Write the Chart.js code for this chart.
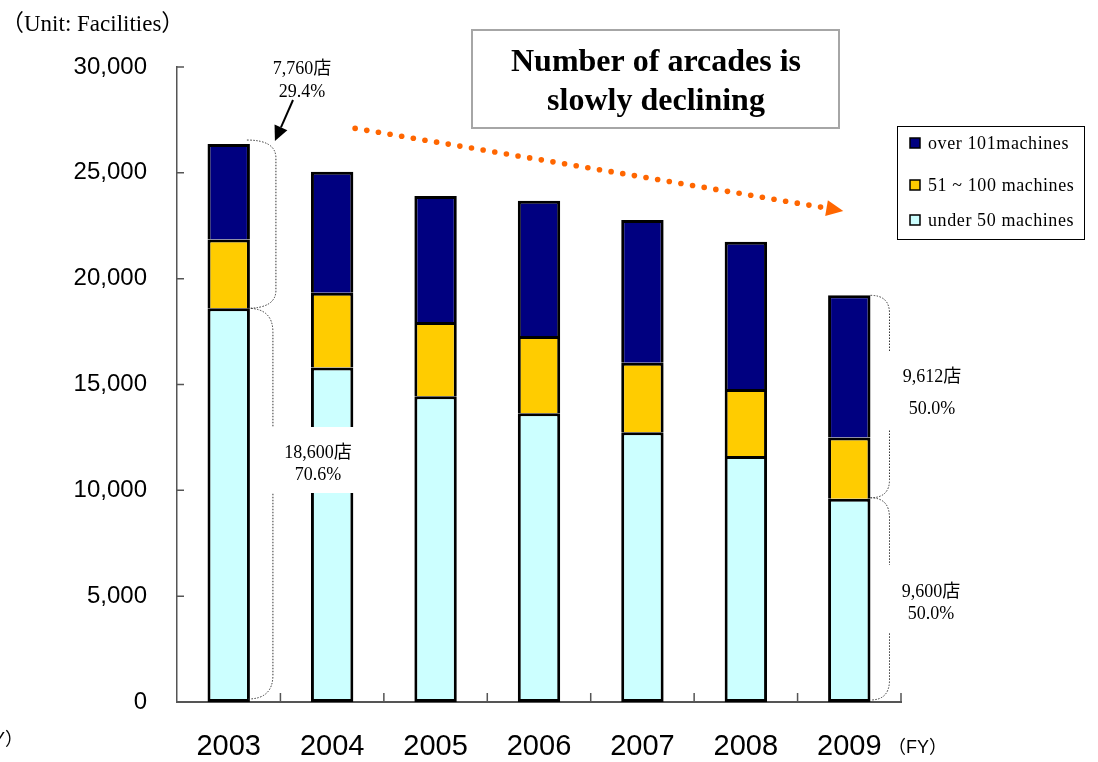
<!DOCTYPE html>
<html>
<head>
<meta charset="utf-8">
<script src="https://cdn.jsdelivr.net/npm/chart.js@4.4.1/dist/chart.umd.min.js"></script>
<style>
  html, body { margin: 0; padding: 0; background: #fff; }
  #wrap { width: 1098px; height: 762px; }
</style>
</head>
<body>
<div id="wrap"><canvas id="arcadeChart" width="1098" height="762"></canvas></div>
<script>
// ===== Data (facilities per fiscal year) =====
const years = ['2003', '2004', '2005', '2006', '2007', '2008', '2009'];
const under50 = [18600, 15800, 14450, 13640, 12740, 11620, 9600];
const mid51to100 = [3250, 3530, 3500, 3650, 3290, 3170, 2900];
const over101 = [4510, 5720, 5950, 6390, 6740, 6960, 6712];
const yTicks = [0, 5000, 10000, 15000, 20000, 25000, 30000];

const seriesNames = ['under 50 machines', '51 ~ 100 machines', 'over 101machines'];
const seriesColors = ['#CCFFFF', '#FFCC00', '#000080'];

const SERIF = "'Liberation Serif', 'Times New Roman', 'Noto Sans CJK JP', serif";
const SANS = "'Liberation Sans', Arial, sans-serif";
const AXIS = '#555';

function fmt(n) { return n.toLocaleString('en-US'); }

// ===== Decorations: axes ticks, braces, notes, legend, title box =====
const decor = {
  id: 'decor',
  afterDraw(chart) {
    const ctx = chart.ctx;
    const xs = chart.scales.x, ys = chart.scales.y;
    const area = chart.chartArea;
    const first = chart.getDatasetMeta(0).data[0];
    const last = chart.getDatasetMeta(0).data[years.length - 1];
    ctx.save();

    // inward tick marks
    ctx.strokeStyle = AXIS;
    ctx.lineWidth = 1.5;
    ctx.beginPath();
    yTicks.forEach(v => {
      const y = ys.getPixelForValue(v);
      ctx.moveTo(area.left, y); ctx.lineTo(area.left + 7, y);
    });
    const step = (area.right - area.left) / years.length;
    for (let i = 1; i <= years.length; i++) {
      const x = area.left + i * step;
      ctx.moveTo(x, area.bottom); ctx.lineTo(x, area.bottom - 9);
    }
    ctx.stroke();

    // dotted braces
    function brace(x0, x1, yTop, yBot, r) {
      ctx.beginPath();
      ctx.moveTo(x0, yTop);
      ctx.quadraticCurveTo(x1, yTop, x1, yTop + r);
      ctx.lineTo(x1, yBot - r);
      ctx.quadraticCurveTo(x1, yBot, x0, yBot);
      ctx.stroke();
    }
    ctx.strokeStyle = '#333';
    ctx.lineWidth = 1;
    ctx.setLineDash([1.5, 1.5]);
    const r0 = first.x + first.width / 2;
    const tot0 = under50[0] + mid51to100[0] + over101[0];
    brace(r0 - 3, r0 + 26, ys.getPixelForValue(tot0) - 4, ys.getPixelForValue(under50[0]), 18);
    brace(r0 - 2, r0 + 23, ys.getPixelForValue(under50[0]), ys.getPixelForValue(0) - 3, 24);
    const r6 = last.x + last.width / 2;
    const tot6 = under50[6] + mid51to100[6] + over101[6];
    brace(r6, r6 + 19, ys.getPixelForValue(tot6), ys.getPixelForValue(under50[6]) - 1, 18);
    brace(r6, r6 + 19, ys.getPixelForValue(under50[6]) - 1, ys.getPixelForValue(0) - 2, 20);
    ctx.setLineDash([]);

    // white label boxes (cover brace gaps and part of the 2004 bar)
    ctx.fillStyle = '#fff';
    ctx.fillRect(262, 427, 110, 66);
    ctx.fillRect(r6 + 10, 352, 20, 78);
    ctx.fillRect(r6 + 10, 565, 20, 67);

    // notes
    ctx.fillStyle = '#000';
    ctx.textAlign = 'center';
    ctx.textBaseline = 'alphabetic';
    ctx.font = '18px ' + SERIF;
    const top2 = mid51to100[0] + over101[0];
    ctx.fillText(fmt(top2) + '店', 302, 74);
    ctx.fillText((top2 / tot0 * 100).toFixed(1) + '%', 302, 97);
    ctx.fillText(fmt(under50[0]) + '店', 318, 458);
    ctx.fillText((under50[0] / tot0 * 100).toFixed(1) + '%', 318, 480);
    const up6 = mid51to100[6] + over101[6];
    ctx.fillText(fmt(up6) + '店', 932, 382);
    ctx.fillText((up6 / tot6 * 100).toFixed(1) + '%', 932, 414);
    ctx.fillText(fmt(under50[6]) + '店', 931, 597);
    ctx.fillText((under50[6] / tot6 * 100).toFixed(1) + '%', 931, 619);

    // arrows (solid black note arrow, dotted orange trend arrow)
    function arrow(x0, y0, x1, y1, len, half, color, dots) {
      const dx = x1 - x0, dy = y1 - y0, d = Math.hypot(dx, dy);
      const ux = dx / d, uy = dy / d;
      const bx = x1 - ux * len, by = y1 - uy * len;
      ctx.fillStyle = color;
      ctx.strokeStyle = color;
      if (dots) {
        for (let t = 0; t <= d - len - 6; t += 11.8) {
          ctx.beginPath();
          ctx.arc(x0 + ux * t, y0 + uy * t, 2.8, 0, Math.PI * 2);
          ctx.fill();
        }
      } else {
        ctx.lineWidth = 2;
        ctx.beginPath(); ctx.moveTo(x0, y0); ctx.lineTo(bx, by); ctx.stroke();
      }
      ctx.beginPath();
      ctx.moveTo(x1, y1);
      ctx.lineTo(bx - uy * half, by + ux * half);
      ctx.lineTo(bx + uy * half, by - ux * half);
      ctx.closePath();
      ctx.fill();
    }
    arrow(293, 100, r0 + 25, ys.getPixelForValue(tot0) - 3, 15, 7, '#000', false);
    arrow(xs.getPixelForValue(1) + 23, ys.getPixelForValue(27100),
          xs.getPixelForValue(6) - 6, ys.getPixelForValue(23200), 17, 8, '#FF6600', true);

    // title box
    ctx.fillStyle = '#fff';
    ctx.fillRect(472, 30, 367, 98);
    ctx.strokeStyle = '#a6a6a6';
    ctx.lineWidth = 2;
    ctx.strokeRect(472, 30, 367, 98);
    ctx.fillStyle = '#000';
    ctx.font = 'bold 32px ' + SERIF;
    ctx.fillText('Number of arcades is', 656, 71);
    ctx.fillText('slowly declining', 656, 110);

    // legend box
    ctx.fillStyle = '#fff';
    ctx.fillRect(897, 126, 187, 113);
    ctx.strokeStyle = '#000';
    ctx.lineWidth = 1;
    ctx.strokeRect(897.5, 126.5, 187, 113);
    const legendRows = [[2, 143], [1, 185], [0, 220]];
    ctx.textAlign = 'left';
    ctx.font = '18px ' + SERIF;
    ctx.letterSpacing = '0.6px';
    legendRows.forEach(([i, y]) => {
      ctx.fillStyle = seriesColors[i];
      ctx.fillRect(910, y - 5, 10, 10);
      ctx.strokeStyle = '#000';
      ctx.lineWidth = 1.5;
      ctx.strokeRect(910, y - 5, 10, 10);
      ctx.fillStyle = '#000';
      ctx.fillText(seriesNames[i], 928, y + 6);
    });
    ctx.letterSpacing = '0px';

    // unit and FY labels
    ctx.font = "23px 'Liberation Serif', 'Noto Sans CJK JP', serif";
    ctx.fillText('（Unit: Facilities）', 1, 31);
    ctx.font = "18px 'Liberation Sans', 'Noto Sans CJK JP', sans-serif";
    ctx.fillText('（FY）', 888, 753);
    ctx.textAlign = 'right';
    ctx.fillText('（FY）', 23, 745);

    ctx.restore();
  }
};

// ===== Chart =====
const sideBorder = { top: 3, left: 3, right: 3, bottom: 0 };
const ctx = document.getElementById('arcadeChart').getContext('2d');
const arcadeChart = new Chart(ctx, {
  type: 'bar',
  data: {
    labels: years,
    datasets: [
      { label: seriesNames[0], data: under50, backgroundColor: seriesColors[0],
        borderColor: '#000', borderSkipped: false,
        borderWidth: { top: 3, left: 3, right: 3, bottom: 3 } },
      { label: seriesNames[1], data: mid51to100, backgroundColor: seriesColors[1],
        borderColor: '#000', borderSkipped: false, borderWidth: sideBorder },
      { label: seriesNames[2], data: over101, backgroundColor: seriesColors[2],
        borderColor: '#000', borderSkipped: false, borderWidth: sideBorder }
    ]
  },
  options: {
    responsive: false,
    devicePixelRatio: 1,
    animation: false,
    layout: { padding: { top: 67, right: 197, left: 0, bottom: 0 } },
    datasets: { bar: { barPercentage: 0.41, categoryPercentage: 1.0 } },
    plugins: { legend: { display: false }, tooltip: { enabled: false } },
    scales: {
      x: {
        stacked: true,
        grid: { display: false, drawTicks: false },
        border: { display: true, color: AXIS, width: 2 },
        ticks: { color: '#000', padding: 28, font: { family: SANS, size: 29 } },
        afterFit: s => { s.height = 60; }
      },
      y: {
        stacked: true,
        min: 0, max: 30000,
        grid: { display: false, drawTicks: false },
        border: { display: true, color: AXIS, width: 1.5 },
        ticks: { stepSize: 5000, color: '#000', padding: 30,
                 font: { family: SANS, size: 24 }, callback: v => fmt(v) },
        afterFit: s => { s.width = 177; }
      }
    }
  },
  plugins: [decor]
});
</script>
</body>
</html>
